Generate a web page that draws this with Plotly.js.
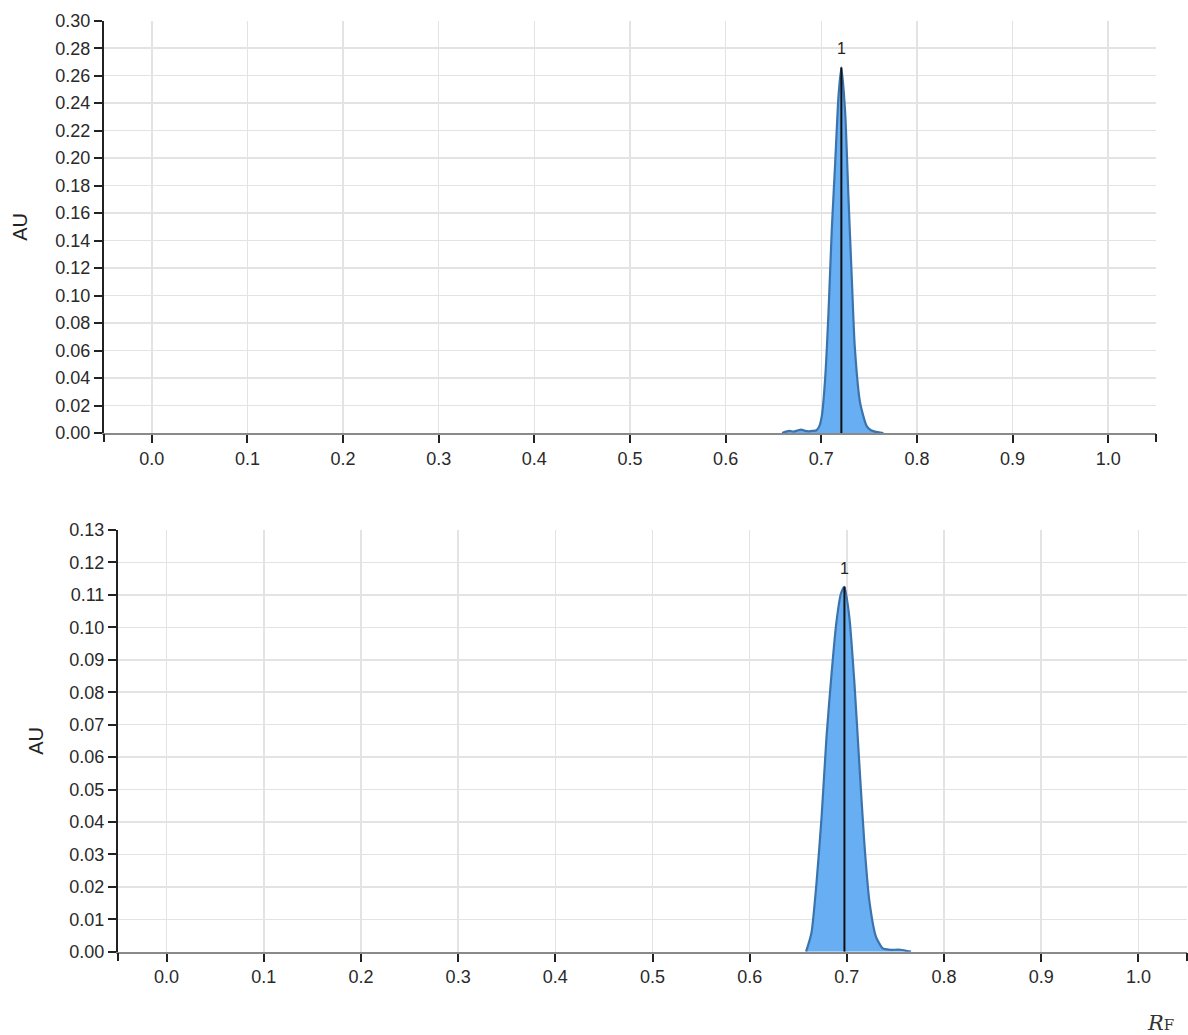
<!DOCTYPE html>
<html>
<head>
<meta charset="utf-8">
<script src="https://cdn.plot.ly/plotly-3.0.1.min.js"></script>
<style>html,body{margin:0;padding:0;background:#fff;}#chart{width:1188px;height:1035px;}</style>
</head>
<body>
<div id="chart"></div>
<script>
// ---- data ----
const topRf = [0.659,0.663,0.667,0.671,0.675,0.679,0.683,0.687,0.691,0.695,0.698,0.7005,0.704,0.7075,0.711,0.7145,0.718,0.721,0.725,0.7284,0.732,0.735,0.7406,0.7475,0.752,0.756,0.765];
const topAu = [0,0.001,0.0015,0.001,0.0018,0.0025,0.0015,0.0012,0.0015,0.002,0.005,0.012,0.039,0.087,0.148,0.196,0.245,0.266,0.233,0.172,0.111,0.063,0.022,0.005,0.002,0.001,0];
const topPeakRf = 0.721, topPeakAu = 0.266, topPeakLabel = '1';

const bottomRf = [0.658,0.6635,0.6687,0.674,0.679,0.684,0.689,0.694,0.6975,0.7026,0.7078,0.713,0.718,0.723,0.730,0.737,0.744,0.755,0.766];
const bottomAu = [0,0.0057,0.021,0.0416,0.066,0.0848,0.101,0.1105,0.1125,0.103,0.0827,0.057,0.0334,0.016,0.0046,0.001,0.0006,0.0006,0];
const bottomPeakRf = 0.6975, bottomPeakAu = 0.1125, bottomPeakLabel = '1';

const xTickVals = [0,0.1,0.2,0.3,0.4,0.5,0.6,0.7,0.8,0.9,1.0];
const xTickText = ['0.0','0.1','0.2','0.3','0.4','0.5','0.6','0.7','0.8','0.9','1.0'];
const xRange = [-0.05, 1.05];
const topYRange = [0, 0.30], topYStep = 0.02;
const bottomYRange = [0, 0.13], bottomYStep = 0.01;
const yTitle = 'AU';
const xTitle = '<i>R</i><span style="font-size:15px">F</span>';

// ---- styling ----
const fillCol = '#68aef2';
const edgeCol = '#3b74ad';
const font = {family: 'Liberation Sans, Arial, sans-serif', size: 18, color: '#2a2a2a'};

function curve(x, y, xa, ya) {
  return {x: x, y: y, xaxis: xa, yaxis: ya, type: 'scatter', mode: 'lines',
    fill: 'tozeroy', fillcolor: fillCol,
    line: {color: edgeCol, width: 2.2, shape: 'spline', smoothing: 0.6},
    hoverinfo: 'skip', showlegend: false};
}
function peakLine(px, py, xa, ya) {
  return {x: [px, px], y: [0, py], xaxis: xa, yaxis: ya, type: 'scatter', mode: 'lines',
    line: {color: '#111', width: 2}, hoverinfo: 'skip', showlegend: false};
}
function peakAnn(px, py, label, xa, ya) {
  return {x: px, y: py, xref: xa, yref: ya, text: label, showarrow: false,
    xanchor: 'center', yanchor: 'bottom', yshift: 8,
    font: {family: font.family, size: 16, color: '#222'}};
}
function outerTicks(xa, ya) {
  // invisible helper trace so the overlay axis (outer end ticks) is drawn
  return {x: [xRange[0]], y: [0], xaxis: xa, yaxis: ya, type: 'scatter', mode: 'markers',
    marker: {opacity: 0}, hoverinfo: 'skip', showlegend: false};
}

const data = [
  curve(topRf, topAu, 'x', 'y'),
  peakLine(topPeakRf, topPeakAu, 'x', 'y'),
  curve(bottomRf, bottomAu, 'x2', 'y2'),
  peakLine(bottomPeakRf, bottomPeakAu, 'x2', 'y2'),
  outerTicks('x3', 'y'),
  outerTicks('x4', 'y2')
];

const W = 1188, H = 1035;
function xAxis(domain, anchor) {
  return {domain: domain, anchor: anchor, range: xRange, tickvals: xTickVals, ticktext: xTickText,
    showgrid: true, gridcolor: '#e3e3e3', gridwidth: 1.5, zeroline: false,
    showline: true, linecolor: '#8a8a8a', linewidth: 2,
    ticks: 'outside', ticklen: 8, tickwidth: 2, tickcolor: '#222',
    tickfont: font, fixedrange: true};
}
function outerAxis(domain, anchor) {
  return {domain: domain, anchor: anchor, range: xRange, tickvals: xRange,
    showticklabels: false, showgrid: false, zeroline: false, showline: false,
    ticks: 'outside', ticklen: 8, tickwidth: 2, tickcolor: '#222', fixedrange: true};
}
function yAxis(domain, anchor, range, step, standoff) {
  return {domain: domain, anchor: anchor, range: range, dtick: step, tick0: 0, tickformat: '.2f',
    showgrid: true, gridcolor: '#e3e3e3', gridwidth: 1.5, zeroline: false,
    showline: true, linecolor: '#222', linewidth: 2,
    ticks: 'outside', ticklen: 8, tickwidth: 2, tickcolor: '#222',
    tickfont: font, fixedrange: true,
    title: {text: yTitle, font: {family: font.family, size: 20, color: '#222'}, standoff: standoff}};
}

const topXDom = [104/W, 1156/W], botXDom = [118/W, 1187/W];
const topYDom = [1 - 433/H, 1 - 20.7/H], botYDom = [1 - 951.7/H, 1 - 530/H];

const layout = {
  width: W, height: H,
  margin: {l: 0, r: 0, t: 0, b: 0},
  paper_bgcolor: '#fff', plot_bgcolor: '#fff',
  font: font,
  showlegend: false,
  xaxis: xAxis(topXDom, 'y'),
  yaxis: yAxis(topYDom, 'x', topYRange, topYStep, 22),
  xaxis2: xAxis(botXDom, 'y2'),
  yaxis2: yAxis(botYDom, 'x2', bottomYRange, bottomYStep, 20),
  xaxis3: Object.assign(outerAxis(topXDom, 'y'), {overlaying: 'x'}),
  xaxis4: Object.assign(outerAxis(botXDom, 'y2'), {overlaying: 'x2'}),
  annotations: [
    peakAnn(topPeakRf, topPeakAu, topPeakLabel, 'x', 'y'),
    peakAnn(bottomPeakRf, bottomPeakAu, bottomPeakLabel, 'x2', 'y2'),
    {xref: 'paper', yref: 'paper', x: 1160/W, y: 1 - 1023/H, xanchor: 'center', yanchor: 'middle',
     text: xTitle, showarrow: false,
     font: {family: 'DejaVu Serif, Liberation Serif, serif', size: 21, color: '#333'}}
  ]
};

Plotly.newPlot('chart', data, layout, {displayModeBar: false, staticPlot: true});
</script>
</body>
</html>
